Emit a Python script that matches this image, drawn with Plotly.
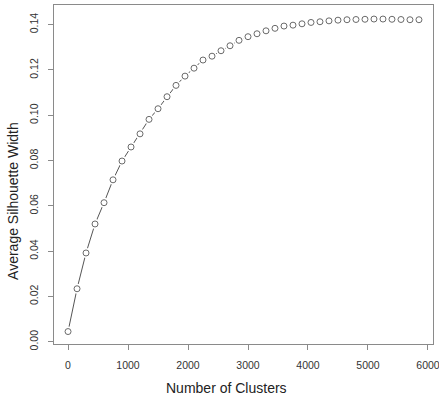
import plotly.graph_objects as go

n_clusters = [i * 150 for i in range(40)]
avg_sil = [0.0045, 0.0234, 0.0392, 0.0520, 0.0614, 0.0715, 0.0798, 0.0860, 0.0918, 0.0982,
           0.1029, 0.1082, 0.1132, 0.1173, 0.1208, 0.1244, 0.1261, 0.1285, 0.1307, 0.1331,
           0.1347, 0.1360, 0.1373, 0.1384, 0.1394, 0.1398, 0.1404, 0.1410, 0.1413, 0.1417,
           0.1420, 0.1422, 0.1423, 0.1424, 0.1425, 0.1425, 0.1424, 0.1423, 0.1422, 0.1422]
x_ticks = [0, 1000, 2000, 3000, 4000, 5000, 6000]
y_ticks = [0.00, 0.02, 0.04, 0.06, 0.08, 0.10, 0.12, 0.14]
y_tick_text = ["0.00", "0.02", "0.04", "0.06", "0.08", "0.10", "0.12", "0.14"]

fig = go.Figure()
fig.add_trace(go.Scatter(x=n_clusters, y=avg_sil, mode="lines",
                         line=dict(color="#555555", width=1), hoverinfo="skip"))
fig.add_trace(go.Scatter(x=n_clusters, y=avg_sil, mode="markers",
                         marker=dict(symbol="circle", size=10, color="white",
                                     line=dict(width=0)), hoverinfo="skip"))
fig.add_trace(go.Scatter(x=n_clusters, y=avg_sil, mode="markers",
                         marker=dict(symbol="circle-open", size=6, color="#6a6a6a",
                                     line=dict(width=1, color="#6a6a6a"))))

axis_common = dict(showgrid=False, zeroline=False, showline=True, mirror=True,
                   linecolor="#8a8a8a", linewidth=1, ticks="outside", ticklen=5,
                   tickcolor="#8a8a8a", tickwidth=1, automargin=False,
                   ticklabeloverflow="allow",
                   tickfont=dict(family="Liberation Sans, Arial", size=10.5, color="#333333"))

fig.update_layout(
    width=439, height=404,
    margin=dict(l=54, r=6, t=5, b=60),
    paper_bgcolor="white", plot_bgcolor="white",
    showlegend=False,
    xaxis=dict(range=[-234, 6084], tickvals=x_ticks, ticklabelstandoff=6, **axis_common),
    yaxis=dict(range=[-0.001, 0.1487], tickvals=y_ticks, ticktext=y_tick_text,
               tickangle=-90, ticklabelstandoff=6, **axis_common),
    annotations=[
        dict(text="Number of Clusters", xref="paper", yref="paper", x=0.454, y=0,
             yshift=-44, yanchor="middle", showarrow=False,
             font=dict(family="Liberation Sans, Arial", size=14, color="#222222")),
        dict(text="Average Silhouette Width", xref="paper", yref="paper", x=0, y=0.422,
             xshift=-41, xanchor="center", textangle=-90, showarrow=False,
             font=dict(family="Liberation Sans, Arial", size=14, color="#222222")),
    ],
)

fig.write_html("out.html", config={"displayModeBar": False},
               post_script="document.body.style.margin='0';")
